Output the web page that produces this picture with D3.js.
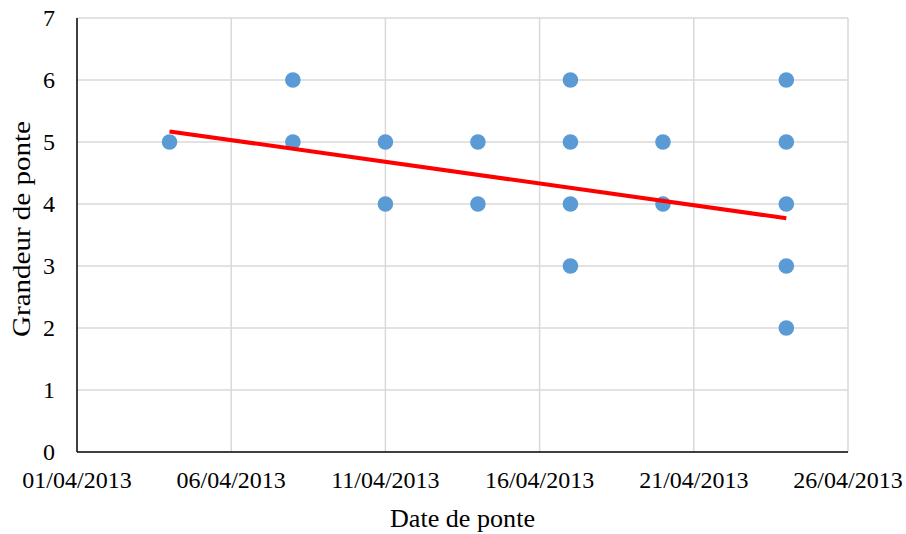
<!DOCTYPE html>
<html lang="fr">
<head>
  <meta charset="UTF-8" />
  <title>Grandeur de ponte</title>
  <script src="https://d3js.org/d3.v7.min.js"></script>
  <style>
    body {
      margin: 0;
      background: #fff;
    }
    text {
      font-family: "Liberation Serif", "DejaVu Serif", serif;
      fill: #000;
    }
    .tick-label {
      font-size: 24px;
    }
    .axis-title {
      font-size: 25px;
    }
  </style>
</head>
<body>
  <svg width="906" height="534"></svg>

  <script>
    // clutch dates and clutch sizes (one entry per visible point)
    const dates = [
      "04/04/2013",
      "08/04/2013", "08/04/2013",
      "11/04/2013", "11/04/2013",
      "14/04/2013", "14/04/2013",
      "17/04/2013", "17/04/2013", "17/04/2013", "17/04/2013",
      "20/04/2013", "20/04/2013",
      "24/04/2013", "24/04/2013", "24/04/2013", "24/04/2013", "24/04/2013"
    ];
    const sizes = [5, 6, 5, 5, 4, 5, 4, 6, 5, 4, 3, 5, 4, 6, 5, 4, 3, 2];

    // linear trend line at its two ends
    const trendDates = ["04/04/2013", "24/04/2013"];
    const trendValues = [5.17, 3.77];

    const xTicks = ["01/04/2013", "06/04/2013", "11/04/2013", "16/04/2013", "21/04/2013", "26/04/2013"];
    const yTicks = [0, 1, 2, 3, 4, 5, 6, 7];

    const parse = d3.utcParse("%d/%m/%Y");

    const margin = { top: 18, right: 58, bottom: 82, left: 77 };
    const width = 906;
    const height = 534;

    const svg = d3.select("svg");

    const x = d3.scaleUtc()
      .domain([parse(xTicks[0]), parse(xTicks[xTicks.length - 1])])
      .range([margin.left, width - margin.right]);

    const y = d3.scaleLinear()
      .domain([0, 7])
      .range([height - margin.bottom, margin.top]);

    // horizontal gridlines
    svg.append("g")
      .selectAll("line")
      .data(yTicks.slice(1))
      .join("line")
      .attr("x1", x.range()[0])
      .attr("x2", x.range()[1])
      .attr("y1", d => y(d))
      .attr("y2", d => y(d))
      .attr("stroke", "#d9d9d9")
      .attr("stroke-width", 1.5);

    // vertical gridlines
    svg.append("g")
      .selectAll("line")
      .data(xTicks.slice(1))
      .join("line")
      .attr("x1", d => x(parse(d)))
      .attr("x2", d => x(parse(d)))
      .attr("y1", y.range()[0])
      .attr("y2", y.range()[1])
      .attr("stroke", "#d9d9d9")
      .attr("stroke-width", 1.5);

    // axes lines
    svg.append("line")
      .attr("x1", x.range()[0])
      .attr("x2", x.range()[1])
      .attr("y1", y(0))
      .attr("y2", y(0))
      .attr("stroke", "#000")
      .attr("stroke-width", 1.5);

    svg.append("line")
      .attr("x1", x.range()[0])
      .attr("x2", x.range()[0])
      .attr("y1", y(0))
      .attr("y2", y(7))
      .attr("stroke", "#000")
      .attr("stroke-width", 1.5);

    // tick labels
    svg.append("g")
      .selectAll("text")
      .data(xTicks)
      .join("text")
      .attr("class", "tick-label")
      .attr("x", d => x(parse(d)))
      .attr("y", y(0) + 36)
      .attr("text-anchor", "middle")
      .text(d => d);

    svg.append("g")
      .selectAll("text")
      .data(yTicks)
      .join("text")
      .attr("class", "tick-label")
      .attr("x", margin.left - 22)
      .attr("y", d => y(d) + 8)
      .attr("text-anchor", "end")
      .text(d => d);

    // axis titles
    svg.append("text")
      .attr("class", "axis-title")
      .attr("x", (x.range()[0] + x.range()[1]) / 2)
      .attr("y", 527)
      .attr("text-anchor", "middle")
      .attr("textLength", 145)
      .attr("lengthAdjust", "spacingAndGlyphs")
      .text("Date de ponte");

    svg.append("text")
      .attr("class", "axis-title")
      .attr("transform", "translate(30,229) rotate(-90)")
      .attr("text-anchor", "middle")
      .attr("textLength", 216)
      .attr("lengthAdjust", "spacingAndGlyphs")
      .text("Grandeur de ponte");

    // points
    svg.append("g")
      .selectAll("circle")
      .data(dates.map((d, i) => ({ date: parse(d), size: sizes[i] })))
      .join("circle")
      .attr("cx", d => x(d.date))
      .attr("cy", d => y(d.size))
      .attr("r", 7.8)
      .attr("fill", "#5b9bd5");

    // trend line
    const line = d3.line()
      .x(d => x(d.date))
      .y(d => y(d.value));

    svg.append("path")
      .datum(trendDates.map((d, i) => ({ date: parse(d), value: trendValues[i] })))
      .attr("d", line)
      .attr("fill", "none")
      .attr("stroke", "#ff0000")
      .attr("stroke-width", 4);
  </script>
</body>
</html>
